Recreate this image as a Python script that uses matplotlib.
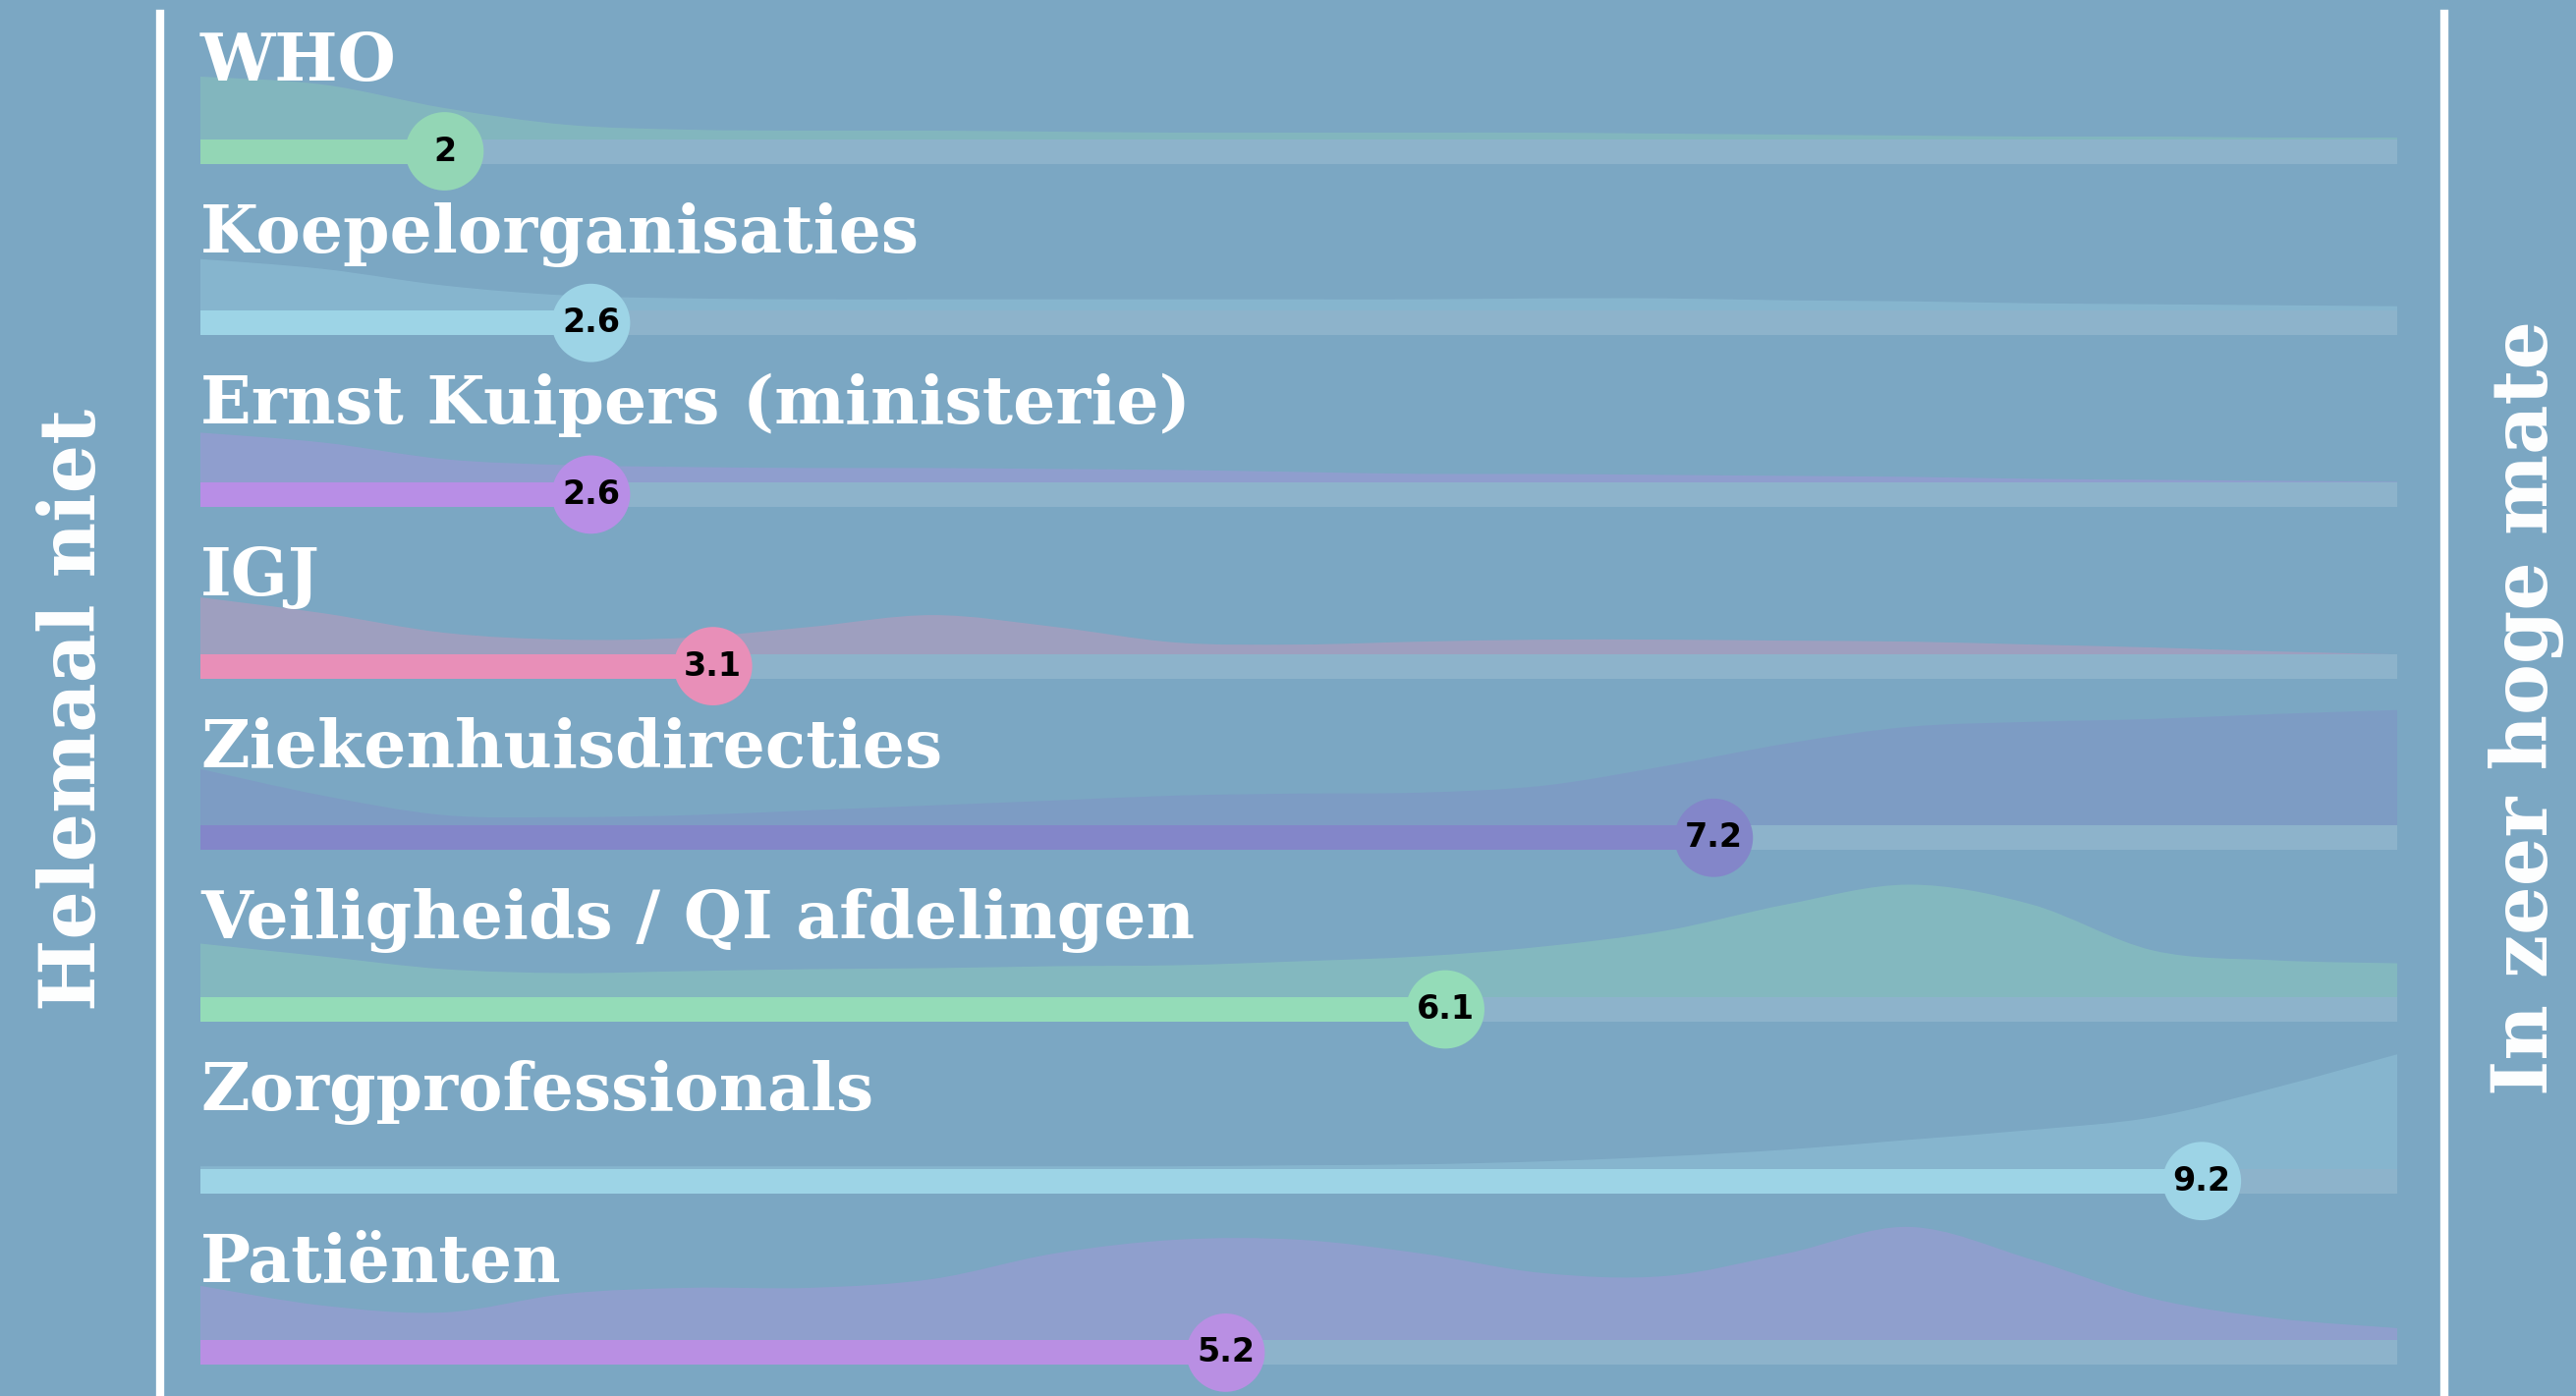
import matplotlib
matplotlib.use("Agg")
import matplotlib.pyplot as plt
from matplotlib.path import Path
from matplotlib.patches import PathPatch

# --- data -----------------------------------------------------------------
labels = [
    "WHO",
    "Koepelorganisaties",
    "Ernst Kuipers (ministerie)",
    "IGJ",
    "Ziekenhuisdirecties",
    "Veiligheids / QI afdelingen",
    "Zorgprofessionals",
    "Patiënten",
]
scores = [2.0, 2.6, 2.6, 3.1, 7.2, 6.1, 9.2, 5.2]
colors = ["#93d6b5", "#9dd4e6", "#b88ee6", "#e88fb8",
          "#8386c9", "#94dcb8", "#9dd4e6", "#b98fe3"]

# answer scale 1..10, density sampled every half point
grid = [1, 1.5, 2, 2.5, 3, 3.5, 4, 4.5, 5, 5.5, 6, 6.5, 7, 7.5, 8, 8.5, 9, 9.5, 10]
dens_who = [76, 68, 44, 27, 22, 21, 21, 20, 19, 19, 19, 19, 18, 17, 16, 15, 15, 14, 14]
dens_koepel = [65, 55, 38, 28, 25, 24, 24, 24, 24, 24, 24, 25, 25, 23, 22, 20, 19, 18, 17]
dens_ernst = [63, 53, 36, 30, 28, 27, 27, 26, 25, 23, 21, 21, 20, 19, 18, 16, 15, 14, 13]
dens_igj = [70, 54, 34, 27, 29, 40, 52, 40, 24, 22, 25, 27, 27, 26, 25, 22, 19, 15, 12]
dens_zkh = [70, 43, 23, 21, 23, 28, 33, 38, 43, 45, 46, 53, 73, 96, 113, 118, 121, 126, 130]
dens_qi = [67, 54, 41, 37, 39, 41, 42, 44, 45, 49, 54, 64, 80, 107, 127, 107, 60, 50, 47]
dens_zorg = [15, 15, 15, 15, 15, 15, 15, 15, 15, 16, 17, 20, 25, 32, 42, 52, 65, 95, 129]
dens_pat = [68, 48, 41, 60, 66, 66, 75, 101, 115, 115, 101, 81, 78, 101, 128, 95, 55, 35, 25]
densities = [dens_who, dens_koepel, dens_ernst, dens_igj,
             dens_zkh, dens_qi, dens_zorg, dens_pat]

left_label = "Helemaal niet"
right_label = "In zeer hoge mate"

# --- layout ---------------------------------------------------------------
BG = "#7ba7c3"
TRACK = "#8db3cb"
W, H, DPI = 2622, 1421, 100
X0_PX, X1_PX = 204, 2440          # pixel position of score 1 and 10
ROW0_PX, ROW_PX = 154, 174.7      # first row centre, row pitch
px_per_unit = (X1_PX - X0_PX) / 9.0
DENS_SCALE = 1.0 / ROW_PX         # density units are pixels


def smooth_area(xs, ys, base):
    """Closed path under a Catmull-Rom curve through (xs, ys)."""
    pts = list(zip(xs, ys))
    verts = [(xs[0], base), pts[0]]
    codes = [Path.MOVETO, Path.LINETO]
    n = len(pts)
    for i in range(n - 1):
        p0 = pts[max(i - 1, 0)]
        p1 = pts[i]
        p2 = pts[i + 1]
        p3 = pts[min(i + 2, n - 1)]
        c1 = (p1[0] + (p2[0] - p0[0]) / 6, p1[1] + (p2[1] - p0[1]) / 6)
        c2 = (p2[0] - (p3[0] - p1[0]) / 6, p2[1] - (p3[1] - p1[1]) / 6)
        verts += [c1, c2, p2]
        codes += [Path.CURVE4] * 3
    verts += [(xs[-1], base), (xs[0], base)]
    codes += [Path.LINETO, Path.CLOSEPOLY]
    return Path(verts, codes)


fig = plt.figure(figsize=(W / DPI, H / DPI), dpi=DPI, facecolor=BG)
ax = fig.add_axes([0, 0, 1, 1])
ax.set_facecolor(BG)
ax.set_xlim(1 - X0_PX / px_per_unit, 1 + (W - X0_PX) / px_per_unit)
ax.set_ylim((H - ROW0_PX) / ROW_PX, -ROW0_PX / ROW_PX)
ax.axis("off")

bar_h = 25 / ROW_PX
for i, (lab, val, col, dens) in enumerate(zip(labels, scores, colors, densities)):
    ys = [i - d * DENS_SCALE for d in dens]
    ax.add_patch(PathPatch(smooth_area(grid, ys, i), facecolor=col, alpha=0.33,
                           edgecolor="none", zorder=1))
    ax.barh(i, 9, left=1, height=bar_h, color=TRACK, zorder=2)
    ax.barh(i, val - 1, left=1, height=bar_h, color=col, zorder=3)
    ax.scatter([val], [i], s=3300, color=col, edgecolors="none", zorder=4)
    ax.text(val, i, f"{val:g}", ha="center", va="center", fontsize=24,
            fontweight="heavy", family="DejaVu Sans", color="black", zorder=5)
    ax.text(1, i - 72 / ROW_PX, lab, ha="left", va="baseline", fontsize=49,
            fontweight="bold", family="DejaVu Serif", color="white", zorder=6)

# side rules and scale anchors
ax.axvline(1 - (X0_PX - 163) / px_per_unit, ymin=0, ymax=1 - 14 / H,
           color="white", lw=6, zorder=6)
ax.axvline(1 + (2488 - X0_PX) / px_per_unit, ymin=0, ymax=1 - 14 / H,
           color="white", lw=6, zorder=6)
fig.text(75 / W, 1 - 722 / H, left_label, rotation=90, ha="center", va="center",
         fontsize=56, fontweight="bold", family="DejaVu Serif", color="white")
fig.text(2572 / W, 1 - 720 / H, right_label, rotation=90, ha="center", va="center",
         fontsize=56, fontweight="bold", family="DejaVu Serif", color="white")

fig.savefig("out.png", dpi=DPI, facecolor=BG)
